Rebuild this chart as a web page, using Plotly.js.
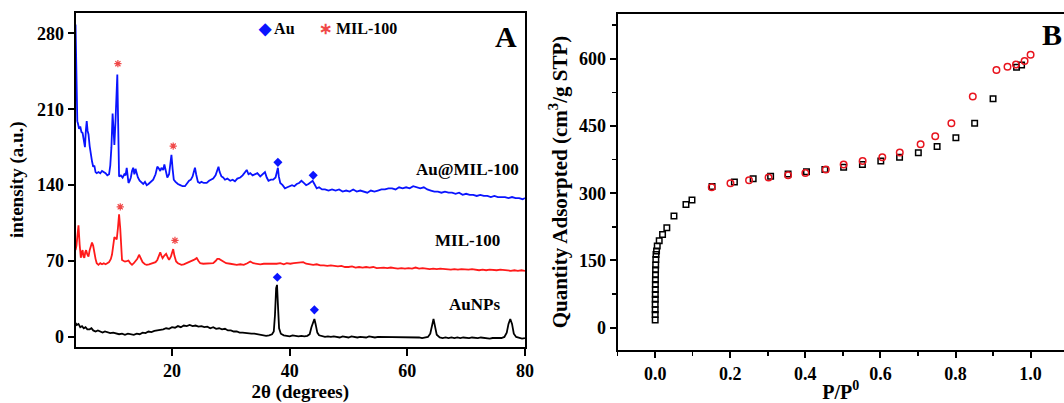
<!DOCTYPE html>
<html>
<head>
<meta charset="utf-8">
<script src="https://cdn.plot.ly/plotly-3.0.1.min.js"></script>
<style>
html,body{margin:0;padding:0;background:#fff;overflow:hidden;}
#chart{width:1064px;height:403px;}
</style>
</head>
<body>
<div id="chart"></div>
<script>
// ---------- Panel A: XRD patterns ----------
const auMilX = [3.6,3.7,3.8,3.9,4.0,4.2,4.4,4.6,4.8,5.0,5.2,5.35,5.5,5.65,5.8,6.0,6.2,6.4,6.6,6.8,7.0,7.2,7.5,7.8,8.1,8.4,8.7,9.0,9.3,9.5,9.7,9.9,10.05,10.2,10.4,10.55,10.7,10.85,11.0,11.3,11.6,11.9,12.1,12.3,12.45,12.6,12.8,13.0,13.2,13.4,13.6,13.8,14.0,14.2,14.5,14.8,15.1,15.4,15.7,16.0,16.4,16.8,17.2,17.5,17.8,18.0,18.2,18.5,18.7,18.9,19.2,19.5,19.7,19.9,20.1,20.3,20.6,21.0,21.4,21.8,22.2,22.6,22.9,23.2,23.5,23.7,23.9,24.1,24.4,24.7,25.0,25.4,25.9,26.3,26.7,27.0,27.4,27.7,27.9,28.1,28.4,28.7,29.0,29.4,29.9,30.3,30.7,31.1,31.6,32.0,32.4,32.7,33.0,33.3,33.7,34.1,34.5,35.0,35.4,35.8,36.1,36.4,36.8,37.2,37.6,37.9,38.0,38.15,38.4,38.8,39.2,39.6,40.0,40.4,40.8,41.2,41.6,42.0,42.4,42.8,43.2,43.6,43.9,44.2,44.6,45.0,45.5,46.0,46.6,47.2,47.8,48.4,49.0,49.6,50.2,50.8,51.4,52.0,52.6,53.2,53.8,54.4,55.0,55.6,56.2,56.8,57.4,58.0,58.6,59.2,59.8,60.4,61.0,61.6,62.2,62.8,63.4,64.0,64.6,65.2,65.8,66.4,67.0,67.6,68.2,68.8,69.4,70.0,70.6,71.2,71.8,72.4,73.0,73.6,74.2,74.8,75.4,76.0,76.6,77.2,77.8,78.4,79.0,79.6,80.0];
const auMilY = [288,240,205,199,197,192,194,189,188,181,175,190,199,190,187,176,167,162,157,158,152,151,152,151,153,152,151,149,150,158,175,206,190,177,200,230,242,195,148,149,147,150,149,156,148,142,144,147,153,156,150,155,151,147,144,142,141,143,140,141,143,145,150,157,155,153,156,154,159,153,147,150,160,168,155,145,143,141,140,139,139,142,144,145,148,152,156,150,143,142,143,142,142,144,145,146,149,153,157,152,148,147,145,146,144,145,143.5,146,147,149,152,154,150,151,149,150,151,148,150,152,147,144,145,145,147,153,156,148,142,140,137,138,139,140,139,141,142,144,142,140,141,143,144,141,137,138,136,136,135,136,135,136,134,135,134,136,134,135,134,133,135,134,135,136,136,137,137,136,138,137,138,137,139,138,137,138,136,135,134,134,133,134,133,133,132,133,131,132,131,131,130,131,130,130,129,130,129,129,129,128,129,128,128,127,128];

const milX = [3.6,3.75,3.9,4.1,4.3,4.5,4.65,4.8,4.95,5.1,5.25,5.4,5.6,5.8,6.0,6.2,6.4,6.6,6.8,7.0,7.2,7.5,7.8,8.1,8.4,8.7,9.0,9.3,9.6,9.8,10.0,10.2,10.4,10.6,10.8,11.0,11.2,11.35,11.5,11.8,12.0,12.3,12.6,12.9,13.2,13.5,13.8,14.1,14.4,14.7,15.0,15.4,15.7,16.1,16.5,16.8,17.2,17.5,17.8,18.0,18.2,18.4,18.7,19.0,19.3,19.5,19.8,20.0,20.2,20.4,20.7,21.0,21.3,21.6,22.0,22.5,22.9,23.3,23.7,24.0,24.2,24.5,24.8,25.3,25.9,26.4,27.0,27.4,27.7,28.0,28.3,28.7,29.2,29.9,30.5,31.0,31.6,32.2,32.8,33.3,33.8,34.4,35.0,35.6,36.1,36.7,37.3,37.8,38.4,39.0,39.5,40.1,40.7,41.2,41.7,42.3,42.8,43.4,44.0,44.6,45.2,45.8,46.4,47.0,47.6,48.2,48.8,49.4,50.0,50.6,51.2,51.8,52.4,53.0,53.6,54.2,54.8,55.4,56.0,56.6,57.2,57.8,58.4,59.0,59.6,60.2,60.8,61.4,62.0,62.6,63.2,63.8,64.4,65.0,65.6,66.2,66.8,67.4,68.0,68.6,69.2,69.8,70.4,71.0,71.6,72.2,72.8,73.4,74.0,74.6,75.2,75.8,76.4,77.0,77.6,78.2,78.8,79.4,80.0];
const milY = [80,84,92,103,85,73,78,80,74,73,78,80,76,74,80,85,87,84,76,72,68,66.5,68,67,68,67,68,69,72,76,84,92,91,90,100,113,100,80,71,70,69.6,70,70.5,68,66.5,68,70,72,75.8,72,69,67,66.5,67,68,68,69,71,76,78,75,72.7,75,76.7,73,71,74,78,81,75,69.6,68,67,66.5,67,68,69,69.6,71,72,72.7,70,68,67.5,67.5,68,68,70,72,72,71,69.6,68,67.5,66.8,66.5,67,66.5,68,69.6,68,67.5,67,67.5,67.5,67,67.5,67.5,68,67,68,67.5,68,68.5,68.7,69,67.5,67,66.5,67,66,66,65.5,66,65.5,65,65.5,64.5,64.5,65,64,64.5,64,64.5,64,64.5,63.5,64,64,63.5,64,63.5,63,63.5,63,63.5,63,64,63,63.5,63,62.5,63,62.5,63,62.5,62.5,62,62.5,62,62.5,62,62,62.5,62,61.5,62,61.5,62,61.5,61.5,62,61.5,61.5,61,61.5,61,61.5,61];

const auNpX = [3.6,3.8,4.1,4.4,4.7,5.0,5.3,5.6,6.0,6.3,6.6,7.0,7.4,7.8,8.2,8.6,9.0,9.5,10.0,10.5,11.0,11.5,12.0,12.5,13.0,13.5,14.0,14.5,15.0,15.5,16.0,16.5,17.0,17.5,18.0,18.5,19.0,19.5,20.0,20.5,21.0,21.5,22.0,22.5,23.0,23.5,24.0,24.5,25.0,25.5,26.0,26.5,27.0,27.5,28.0,28.5,29.0,29.5,30.0,30.5,31.0,31.5,32.0,32.5,33.0,33.5,34.0,34.5,35.0,35.5,36.0,36.5,37.0,37.3,37.5,37.7,37.85,38.0,38.2,38.5,39.0,39.5,40.0,40.5,41.0,41.5,42.0,42.5,43.0,43.4,43.7,44.0,44.2,44.4,44.7,45.0,45.5,46.0,46.5,47.0,47.5,48.0,48.5,49.0,49.5,50.0,50.5,51.0,51.5,52.0,52.5,53.0,53.5,54.0,54.5,55.0,55.5,56.0,56.5,57.0,57.5,58.0,58.5,59.0,59.5,60.0,60.5,61.0,61.5,62.0,62.5,63.0,63.5,63.9,64.2,64.45,64.7,65.0,65.5,66.0,66.5,67.0,67.5,68.0,68.5,69.0,69.5,70.0,70.5,71.0,71.5,72.0,72.5,73.0,73.5,74.0,74.5,75.0,75.5,76.0,76.5,76.9,77.2,77.5,77.8,78.1,78.5,79.0,79.5,80.0];
const auNpY = [13,11,12,9,10,8,9,7,7,8,6,5,6,5,4,5,4,3.5,4,3,2.5,3,2,3,2.5,2,3,2.5,4,3.5,5,4.5,5.5,6,6,7,8,7.5,9,8.5,10,9,10.5,10,11,10,10.5,9.5,10,9,9.5,8,9,7.5,8,7,7.5,6,6,5,5,4,4,3.5,3.5,3,3,2.5,2.5,1.5,1,1.5,2.5,5,20,45,48,30,8,3,1.5,1,0.5,1.5,1,0.5,1,0.5,1,2.5,9,15,16.5,12,4,1.5,0.5,0,0.5,0,0.5,0,-0.5,0.5,0,-0.5,0.5,0,-0.5,0,0,-0.5,0.5,0,-0.5,0,0,-0.5,0,-0.5,0,-0.5,0,-0.5,-0.5,0,-0.5,-0.5,0,-0.5,-1,-0.5,0,3,11,16.5,10,2,-0.5,-1,-0.5,-1,-0.5,-1,-0.5,-1,-0.5,-1,-1,-0.5,-1,-1,-0.5,-1,-1,-1.5,-1,-1,-1.5,-1,0,4,12,16.5,12,3,0,-1,-1.5,-1];

// reflection markers
const auMarkX = [38.0, 44.0, 37.9, 44.2];
const auMarkY = [161, 149, 55, 25];
const milMarkX = [10.8, 20.2, 11.2, 20.5];
const milMarkY = [252, 176, 120, 89];

// sample labels
const sampleNames = ["Au@MIL-100", "MIL-100", "AuNPs"];

// ---------- Panel B: N2 isotherm ----------
const adsP = [0,0,0,0,0.0002,0.0003,0.0004,0.0005,0.0006,0.0008,0.001,0.0013,0.0017,0.0022,0.0036,0.0055,0.0107,0.0196,0.031,0.05,0.082,0.098,0.1515,0.211,0.261,0.3075,0.354,0.403,0.452,0.502,0.552,0.601,0.651,0.701,0.751,0.801,0.851,0.90,0.9626,0.976];
const adsQ = [17,29,40,52,63,74,85,96,107,118,129,140,152,163,171,182,194,208,223,249,275,285,315,325,332,338,343,348,353,358,364,372,380,390,404,424,456,511,581,586];
const desP = [1.0,0.984,0.961,0.9385,0.909,0.846,0.789,0.746,0.707,0.6515,0.605,0.5526,0.502,0.4545,0.40,0.354,0.302,0.25,0.2005,0.1506];
const desQ = [609,595,587,582,575,516,456,427,409,391,380,372,364,353,345,340,335,329,322,313];

const FONT = "Liberation Serif, Times New Roman, serif";
const blue = "#0a14ff", red = "#ff1a1a", black = "#000000", star = "#f04848";

const traces = [
  {x: auNpX, y: auNpY, type: "scatter", mode: "lines", line: {color: black, width: 1.8}, xaxis: "x", yaxis: "y", showlegend: false, name: sampleNames[2]},
  {x: milX, y: milY, type: "scatter", mode: "lines", line: {color: red, width: 1.8}, xaxis: "x", yaxis: "y", showlegend: false, name: sampleNames[1]},
  {x: auMilX, y: auMilY, type: "scatter", mode: "lines", line: {color: blue, width: 1.8}, xaxis: "x", yaxis: "y", showlegend: false, name: sampleNames[0]},
  {x: auMarkX, y: auMarkY, type: "scatter", mode: "markers", marker: {symbol: "diamond", size: 7, color: blue, line: {width: 0}}, xaxis: "x", yaxis: "y", showlegend: false, name: "Au"},
  {x: milMarkX, y: milMarkY, type: "scatter", mode: "markers", marker: {symbol: "asterisk-open", size: 6, color: star, line: {color: star, width: 1.2}}, xaxis: "x", yaxis: "y", showlegend: false, name: "MIL-100"},
  {x: adsP, y: adsQ, type: "scatter", mode: "markers", marker: {symbol: "square-open", size: 5.5, color: black, line: {width: 1.5, color: black}}, xaxis: "x2", yaxis: "y2", showlegend: false, name: "Adsorption"},
  {x: desP, y: desQ, type: "scatter", mode: "markers", marker: {symbol: "circle-open", size: 6.5, color: "#e8141e", line: {width: 1.5, color: "#e8141e"}}, xaxis: "x2", yaxis: "y2", showlegend: false, name: "Desorption"}
];

const tickFont = {family: FONT, size: 18, color: black, weight: "bold"};
const titleFont = {family: FONT, size: 19, color: black, weight: "bold"};
const axBase = {showline: true, linecolor: black, linewidth: 2, ticks: "outside", ticklen: 7, tickwidth: 2, tickcolor: black, showgrid: false, zeroline: false, tickfont: tickFont, automargin: false};
const labFont = {family: FONT, size: 17, color: black, weight: "bold"};

const layout = {
  width: 1064, height: 403,
  margin: {l: 0, r: 0, t: 0, b: 0, pad: 0},
  paper_bgcolor: "#ffffff", plot_bgcolor: "#ffffff",
  showlegend: false,
  xaxis: Object.assign({}, axBase, {domain: [0.0710, 0.4934], range: [3.6, 80], anchor: "y", mirror: true, dtick: 20, tick0: 0,
    title: {text: "2θ (degrees)", font: titleFont, standoff: 2}}),
  yaxis: Object.assign({}, axBase, {domain: [0.1397, 0.9685], range: [-9, 299], anchor: "x", mirror: true, dtick: 70, tick0: 0, ticklen: 6,
    title: {text: "intensity (a.u.)", font: titleFont, standoff: 8}}),
  xaxis2: Object.assign({}, axBase, {domain: [0.5805, 1.0], range: [-0.1, 1.089], anchor: "y2", mirror: true, dtick: 0.2, tick0: 0, tickformat: ".1f", ticklen: 6,
    minor: {dtick: 0.1, tick0: 0, ticks: "outside", ticklen: 4, tickwidth: 1.5, tickcolor: black, showgrid: false},
    title: {text: "P/P<sup>0</sup>", font: {family: FONT, size: 20, color: black, weight: "bold"}, standoff: 2}}),
  yaxis2: Object.assign({}, axBase, {domain: [0.1315, 0.9653], range: [-50, 700], anchor: "x2", mirror: false, dtick: 150, tick0: 0, ticklen: 6,
    minor: {dtick: 75, tick0: 0, ticks: "outside", ticklen: 4, tickwidth: 1.5, tickcolor: black, showgrid: false},
    title: {text: "Quantity Adsorpted (cm<sup>3</sup>/g STP)", font: {family: FONT, size: 21, color: black, weight: "bold"}, standoff: 6}}),
  annotations: [
    {xref: "x", yref: "y", x: 79.4, y: 154, text: sampleNames[0], showarrow: false, xanchor: "right", yanchor: "middle", font: labFont},
    {xref: "x", yref: "y", x: 70.3, y: 88.5, text: sampleNames[1], showarrow: false, xanchor: "center", yanchor: "middle", font: labFont},
    {xref: "x", yref: "y", x: 71.4, y: 30, text: sampleNames[2], showarrow: false, xanchor: "center", yanchor: "middle", font: labFont},
    {xref: "x", yref: "y", x: 76.8, y: 277, text: "A", showarrow: false, xanchor: "center", yanchor: "middle", font: {family: FONT, size: 30, color: black, weight: "bold"}},
    {xref: "x", yref: "y", x: 34.2, y: 284.5, text: "<span style='color:" + blue + "'>◆</span> Au", showarrow: false, xanchor: "left", yanchor: "middle", font: {family: FONT, size: 16, color: black, weight: "bold"}},
    {xref: "x", yref: "y", x: 44.6, y: 284.5, text: "<span style='color:" + star + "'>∗</span> MIL-100", showarrow: false, xanchor: "left", yanchor: "middle", font: {family: FONT, size: 16, color: black, weight: "bold"}},
    {xref: "paper", yref: "paper", x: 1.0, y: 0.915, text: "B", showarrow: false, xanchor: "right", yanchor: "middle", font: {family: FONT, size: 30, color: black, weight: "bold"}}
  ]
};

Plotly.newPlot("chart", traces, layout, {displayModeBar: false, staticPlot: true});
</script>
</body>
</html>
